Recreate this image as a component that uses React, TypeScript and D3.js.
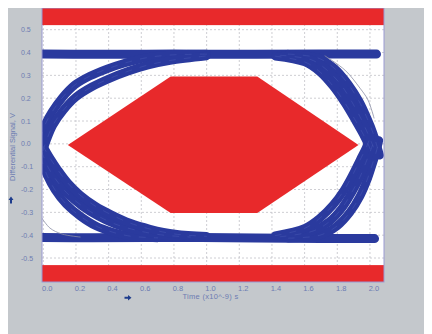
import React from "react";
import * as d3 from "d3";

type Pt = [number, number];

// Axis ticks
const xTicks: number[] = [0, 0.2, 0.4, 0.6, 0.8, 1.0, 1.2, 1.4, 1.6, 1.8, 2.0];
const yTicks: number[] = [-0.5, -0.4, -0.3, -0.2, -0.1, 0.0, 0.1, 0.2, 0.3, 0.4, 0.5];
const xTickLabels: string[] = ["0.0", "0.2", "0.4", "0.6", "0.8", "1.0", "1.2", "1.4", "1.6", "1.8", "2.0"];
const yTickLabels: string[] = ["-0.5", "-0.4", "-0.3", "-0.2", "-0.1", "0.0", "0.1", "0.2", "0.3", "0.4", "0.5"];

// Mask (keep-out regions)
const maskUpperLimit = 0.52;
const maskLowerLimit = -0.531;
const maskHexagon: Pt[] = [
  [0.15, -0.005], [0.78, 0.295], [1.31, 0.295], [1.93, -0.005], [1.31, -0.303], [0.78, -0.303],
];

// Eye traces (time in ns, voltage in V)
const railHigh: Pt[] = [[-0.02, 0.394], [0.3, 0.392], [0.8, 0.393], [1.3, 0.392], [1.7, 0.394], [2.04, 0.393]];
const railLow: Pt[] = [[-0.02, -0.41], [0.3, -0.411], [0.8, -0.41], [1.3, -0.412], [1.7, -0.414], [2.028, -0.415]];

const riseLeftOuter: Pt[] = [
  [-0.014, 0.025], [0.01, 0.082], [0.053, 0.139], [0.115, 0.201], [0.193, 0.258], [0.286, 0.297],
  [0.39, 0.328], [0.5, 0.354], [0.623, 0.376], [0.776, 0.389], [1.0, 0.393],
];
const riseLeftInner: Pt[] = [
  [-0.002, -0.03], [0.023, 0.022], [0.059, 0.082], [0.121, 0.146], [0.2, 0.205], [0.298, 0.25],
  [0.408, 0.287], [0.519, 0.318], [0.641, 0.345], [0.776, 0.365], [1.0, 0.385],
];
const fallLeftOuter: Pt[] = [
  [-0.014, -0.062], [0.023, -0.137], [0.072, -0.202], [0.14, -0.264], [0.225, -0.316], [0.323, -0.36],
  [0.421, -0.386], [0.531, -0.404], [0.7, -0.412],
];
const fallLeftMiddle: Pt[] = [
  [-0.008, -0.036], [0.029, -0.102], [0.084, -0.163], [0.151, -0.22], [0.237, -0.272], [0.335, -0.316],
  [0.439, -0.351], [0.562, -0.377], [0.715, -0.398], [0.9, -0.408],
];
const fallLeftInner: Pt[] = [
  [-0.002, -0.01], [0.041, -0.062], [0.09, -0.115], [0.151, -0.172], [0.225, -0.224], [0.317, -0.272],
  [0.421, -0.312], [0.531, -0.347], [0.653, -0.373], [0.806, -0.395], [1.0, -0.405],
];
const fallRightOuter: Pt[] = [
  [1.5, 0.393], [1.682, 0.376], [1.78, 0.332], [1.866, 0.262], [1.933, 0.187], [1.982, 0.113],
  [2.019, 0.047], [2.043, -0.01], [2.06, -0.05],
];
const fallRightMiddle: Pt[] = [
  [1.45, 0.388], [1.645, 0.367], [1.737, 0.323], [1.823, 0.258], [1.89, 0.183], [1.946, 0.109],
  [1.988, 0.043], [2.019, -0.01], [2.04, -0.05],
];
const fallRightInner: Pt[] = [
  [1.42, 0.384], [1.603, 0.358], [1.694, 0.315], [1.774, 0.253], [1.847, 0.179], [1.909, 0.105],
  [1.958, 0.043], [1.994, -0.01], [2.02, -0.055],
];
const riseRightOuter: Pt[] = [
  [1.5, -0.413], [1.694, -0.4], [1.798, -0.36], [1.878, -0.299], [1.939, -0.229], [1.982, -0.159],
  [2.013, -0.093], [2.038, -0.036], [2.055, 0.015],
];
const riseRightMiddle: Pt[] = [
  [1.45, -0.407], [1.651, -0.382], [1.749, -0.342], [1.829, -0.281], [1.89, -0.211], [1.939, -0.145],
  [1.976, -0.08], [2.007, -0.023], [2.03, 0.025],
];
const riseRightInner: Pt[] = [
  [1.42, -0.402], [1.603, -0.369], [1.694, -0.325], [1.774, -0.268], [1.841, -0.203], [1.896, -0.133],
  [1.939, -0.071], [1.976, -0.018], [2.005, 0.034],
];

// Thin outlier traces
const outlierRight: Pt[] = [[1.725, 0.385], [1.847, 0.323], [1.939, 0.244], [1.988, 0.192], [2.025, 0.113]];
const outlierLeft: Pt[] = [[-0.008, -0.326], [0.041, -0.369], [0.115, -0.395], [0.225, -0.408]];

const edgeTraces: Pt[][] = [
  riseLeftOuter, riseLeftInner,
  fallLeftOuter, fallLeftMiddle, fallLeftInner,
  fallRightOuter, fallRightMiddle, fallRightInner,
  riseRightOuter, riseRightMiddle, riseRightInner,
];
const railTraces: Pt[][] = [railHigh, railLow];
const outlierTraces: Pt[][] = [outlierRight, outlierLeft];

const W = 424;
const H = 326;
const plotL = 34;
const plotR = 376;
const plotT = 0;
const plotB = 274;

const FONT = "'Liberation Sans', Arial, sans-serif";
const LABEL_COLOR = "#6d7cb2";
const TRACE_COLOR = "#2a3a9e";

export default function App() {
  const x = d3.scaleLinear().domain([-0.008, 2.086]).range([plotL, plotR]);
  const y = d3.scaleLinear().domain([-0.605, 0.595]).range([plotB, plotT]);
  const line = d3
    .line<Pt>()
    .x((d) => x(d[0]))
    .y((d) => y(d[1]))
    .curve(d3.curveCatmullRom.alpha(0.5));
  const poly = d3
    .line<Pt>()
    .x((d) => x(d[0]))
    .y((d) => y(d[1]))
    .curve(d3.curveLinearClosed);

  const [yMin, yMax] = y.domain();

  return (
    <svg width={W} height={H} style={{ display: "block" }} xmlns="http://www.w3.org/2000/svg">
      <defs>
        <clipPath id="plotClip">
          <rect x={plotL} y={plotT} width={plotR - plotL} height={plotB - plotT} />
        </clipPath>
      </defs>
      <rect x={0} y={0} width={W} height={H} fill="#c4c8cc" />
      <rect x={plotL} y={plotT} width={plotR - plotL} height={plotB - plotT} fill="#ffffff" />

      {/* grid */}
      <g stroke="#c2c2c8" strokeWidth={0.8} strokeDasharray="2,2">
        {xTicks.map((t) => (
          <line key={"gx" + t} x1={x(t)} x2={x(t)} y1={plotT} y2={plotB} />
        ))}
        {yTicks.map((v) => (
          <line key={"gy" + v} x1={plotL} x2={plotR} y1={y(v)} y2={y(v)} />
        ))}
      </g>

      {/* mask */}
      <g fill="#e8292b">
        <rect x={plotL} y={y(yMax)} width={plotR - plotL} height={y(maskUpperLimit) - y(yMax)} />
        <rect x={plotL} y={y(maskLowerLimit)} width={plotR - plotL} height={y(yMin) - y(maskLowerLimit)} />
        <path d={poly(maskHexagon) || ""} />
      </g>

      {/* traces */}
      <g clipPath="url(#plotClip)" fill="none" strokeLinecap="round" strokeLinejoin="round">
        {railTraces.map((tr, i) => (
          <path key={"r" + i} d={line(tr) || ""} stroke={TRACE_COLOR} strokeWidth={9} />
        ))}
        {edgeTraces.map((tr, i) => (
          <path key={"e" + i} d={line(tr) || ""} stroke={TRACE_COLOR} strokeWidth={8.5} />
        ))}
        {edgeTraces.map((tr, i) => (
          <path key={"h" + i} d={line(tr) || ""} stroke="#4d5db8" strokeWidth={0.7} strokeDasharray="6,9" opacity={0.6} />
        ))}
        {outlierTraces.map((tr, i) => (
          <path key={"o" + i} d={line(tr) || ""} stroke="#8c8fa6" strokeWidth={0.8} />
        ))}
      </g>

      {/* plot border */}
      <rect x={plotL} y={plotT} width={plotR - plotL} height={plotB - plotT} fill="none" stroke="#9a9ad2" strokeWidth={1} />

      {/* y tick labels */}
      <g fontFamily={FONT} fontSize={7} fill={LABEL_COLOR}>
        {yTicks.map((v, i) => (
          <text key={"yl" + v} x={13} y={y(v)} dominantBaseline="central" textAnchor="start">
            {yTickLabels[i]}
          </text>
        ))}
      </g>
      {/* x tick labels */}
      <g fontFamily={FONT} fontSize={7.5} fill={LABEL_COLOR}>
        {xTicks.map((t, i) => (
          <text key={"xl" + t} x={x(t) - 1.3} y={280.5} dominantBaseline="central" textAnchor="start">
            {xTickLabels[i]}
          </text>
        ))}
      </g>

      {/* axis titles */}
      <text
        x={0}
        y={0}
        transform={`translate(4.5,139) rotate(-90)`}
        textAnchor="middle"
        dominantBaseline="central"
        fontFamily={FONT}
        fontSize={7.5}
        fill={LABEL_COLOR}
      >
        Differential Signal, V
      </text>
      <text
        x={202.5}
        y={288}
        textAnchor="middle"
        dominantBaseline="central"
        fontFamily={FONT}
        fontSize={7.5}
        letterSpacing={0.3}
        fill={LABEL_COLOR}
      >
        Time (x10^-9) s
      </text>

      {/* small arrow icons */}
      <path d="M3,188.5 L5.5,192 L4,192 L4,195.5 L2,195.5 L2,192 L0.5,192 Z" fill="#1e3c8c" />
      <path d="M116.5,288.7 L120,288.7 L120,287 L123.5,289.7 L120,292.4 L120,290.7 L116.5,290.7 Z" fill="#1e3c8c" />
    </svg>
  );
}
